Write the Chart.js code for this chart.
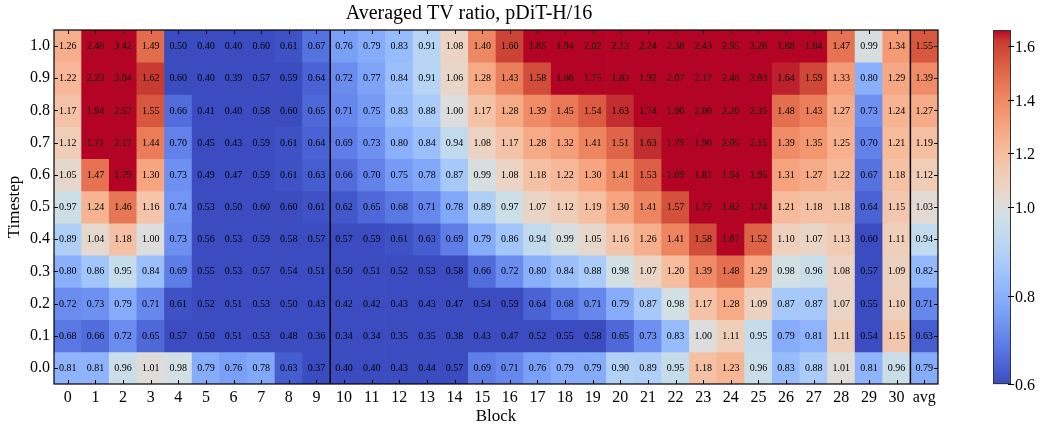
<!DOCTYPE html>
<html>
<head>
<meta charset="utf-8">
<script src="https://cdn.jsdelivr.net/npm/chart.js@4.4.1/dist/chart.umd.min.js"></script>
<style>
  html, body { margin: 0; padding: 0; background: #fff; }
  #wrap { position: relative; width: 1040px; height: 428px; }
</style>
</head>
<body>
<div id="wrap"><canvas id="tv" width="1040" height="428"></canvas></div>
<script>
// Block labels (x) and timesteps (y, top to bottom)
const blocks = ['0','1','2','3','4','5','6','7','8','9','10','11','12','13','14','15',
  '16','17','18','19','20','21','22','23','24','25','26','27','28','29','30','avg'];
const timesteps = [1.0, 0.9, 0.8, 0.7, 0.6, 0.5, 0.4, 0.3, 0.2, 0.1, 0.0];
const cbarTicks = [0.6, 0.8, 1.0, 1.2, 1.4, 1.6];

// Averaged TV ratio per block, one array per timestep
const tv_t10 = [1.26,2.46,3.42,1.49,0.50,0.40,0.40,0.60,0.61,0.67,0.76,0.79,0.83,0.91,1.08,1.40,1.60,1.85,1.94,2.02,2.13,2.24,2.38,2.43,2.95,3.26,1.88,1.84,1.47,0.99,1.34,1.55];
const tv_t09 = [1.22,2.23,3.04,1.62,0.60,0.40,0.39,0.57,0.59,0.64,0.72,0.77,0.84,0.91,1.06,1.28,1.43,1.58,1.66,1.75,1.83,1.92,2.07,2.17,2.46,2.63,1.64,1.59,1.33,0.80,1.29,1.39];
const tv_t08 = [1.17,1.94,2.57,1.55,0.66,0.41,0.40,0.58,0.60,0.65,0.71,0.75,0.83,0.88,1.00,1.17,1.28,1.39,1.45,1.54,1.63,1.74,1.90,2.00,2.20,2.35,1.48,1.43,1.27,0.73,1.24,1.27];
const tv_t07 = [1.12,1.71,2.17,1.44,0.70,0.45,0.43,0.59,0.61,0.64,0.69,0.73,0.80,0.84,0.94,1.08,1.17,1.28,1.32,1.41,1.51,1.63,1.79,1.90,2.05,2.15,1.39,1.35,1.25,0.70,1.21,1.19];
const tv_t06 = [1.05,1.47,1.79,1.30,0.73,0.49,0.47,0.59,0.61,0.63,0.66,0.70,0.75,0.78,0.87,0.99,1.08,1.18,1.22,1.30,1.41,1.53,1.69,1.81,1.94,1.95,1.31,1.27,1.22,0.67,1.18,1.12];
const tv_t05 = [0.97,1.24,1.46,1.16,0.74,0.53,0.50,0.60,0.60,0.61,0.62,0.65,0.68,0.71,0.78,0.89,0.97,1.07,1.12,1.19,1.30,1.41,1.57,1.72,1.82,1.74,1.21,1.18,1.18,0.64,1.15,1.03];
const tv_t04 = [0.89,1.04,1.18,1.00,0.73,0.56,0.53,0.59,0.58,0.57,0.57,0.59,0.61,0.63,0.69,0.79,0.86,0.94,0.99,1.05,1.16,1.26,1.41,1.58,1.67,1.52,1.10,1.07,1.13,0.60,1.11,0.94];
const tv_t03 = [0.80,0.86,0.95,0.84,0.69,0.55,0.53,0.57,0.54,0.51,0.50,0.51,0.52,0.53,0.58,0.66,0.72,0.80,0.84,0.88,0.98,1.07,1.20,1.39,1.48,1.29,0.98,0.96,1.08,0.57,1.09,0.82];
const tv_t02 = [0.72,0.73,0.79,0.71,0.61,0.52,0.51,0.53,0.50,0.43,0.42,0.42,0.43,0.43,0.47,0.54,0.59,0.64,0.68,0.71,0.79,0.87,0.98,1.17,1.28,1.09,0.87,0.87,1.07,0.55,1.10,0.71];
const tv_t01 = [0.68,0.66,0.72,0.65,0.57,0.50,0.51,0.53,0.48,0.36,0.34,0.34,0.35,0.35,0.38,0.43,0.47,0.52,0.55,0.58,0.65,0.73,0.83,1.00,1.11,0.95,0.79,0.81,1.11,0.54,1.15,0.63];
const tv_t00 = [0.81,0.81,0.96,1.01,0.98,0.79,0.76,0.78,0.63,0.37,0.40,0.40,0.43,0.44,0.57,0.69,0.71,0.76,0.79,0.79,0.90,0.89,0.95,1.18,1.23,0.96,0.83,0.88,1.01,0.81,0.96,0.79];
const rows = [tv_t10, tv_t09, tv_t08, tv_t07, tv_t06, tv_t05, tv_t04, tv_t03, tv_t02, tv_t01, tv_t00];

// Two-slope colour normalisation centred on 1.0
const VMIN = 0.6, VCENTER = 1.0, VMAX = 1.66;
function norm(v) {
  const t = v < VCENTER ? 0.5 * (v - VMIN) / (VCENTER - VMIN)
                        : 0.5 + 0.5 * (v - VCENTER) / (VMAX - VCENTER);
  return Math.min(1, Math.max(0, t));
}

// Moreland cool-warm diverging colour map, 33 samples
const CW = [
  [0.2298,0.2987,0.7537],[0.2667,0.3529,0.8016],[0.3045,0.4066,0.8445],[0.3432,0.4595,0.8820],
  [0.3826,0.5105,0.9139],[0.4226,0.5595,0.9401],[0.4630,0.6063,0.9604],[0.5036,0.6504,0.9749],
  [0.5443,0.6915,0.9836],[0.5849,0.7294,0.9866],[0.6251,0.7638,0.9840],[0.6645,0.7945,0.9762],
  [0.7032,0.8214,0.9632],[0.7407,0.8442,0.9455],[0.7768,0.8630,0.9233],[0.8108,0.8773,0.8967],
  [0.8654,0.8654,0.8654],[0.8981,0.8479,0.8089],[0.9255,0.8262,0.7614],[0.9443,0.8000,0.7123],
  [0.9571,0.7698,0.6622],[0.9647,0.7357,0.6122],[0.9672,0.6981,0.5625],[0.9650,0.6573,0.5136],
  [0.9578,0.6137,0.4663],[0.9462,0.5677,0.4206],[0.9304,0.5195,0.3767],[0.9104,0.4692,0.3350],
  [0.8860,0.4165,0.2960],[0.8567,0.3613,0.2599],[0.8225,0.3022,0.2266],[0.7822,0.2363,0.1966],
  [0.7057,0.0156,0.1502]
];
function coolwarm(t) {
  const p = t * (CW.length - 1);
  const i = Math.min(CW.length - 2, Math.floor(p));
  const f = p - i;
  const c = CW[i].map((a, k) => Math.round(255 * (a + (CW[i + 1][k] - a) * f)));
  return `rgb(${c[0]},${c[1]},${c[2]})`;
}

const FONT = "'Liberation Serif', 'DejaVu Serif', serif";
const HALF = 0.05;

// One floating-bar dataset per timestep row, all overlapping on the block axis
const datasets = timesteps.map((t, r) => ({
  label: t.toFixed(1),
  data: blocks.map(() => [t - HALF, t + HALF]),
  backgroundColor: rows[r].map(v => coolwarm(norm(v))),
  borderWidth: 0,
  barPercentage: 1,
  categoryPercentage: 1,
  grouped: false
}));

const heatDecor = {
  id: 'heatDecor',
  afterDatasetsDraw(chart) {
    const { ctx, chartArea: a, scales: { x, y } } = chart;
    ctx.save();

    // value labels inside cells
    ctx.fillStyle = '#000';
    ctx.font = `10px ${FONT}`;
    ctx.textAlign = 'center';
    ctx.textBaseline = 'middle';
    chart.data.datasets.forEach((ds, di) => {
      chart.getDatasetMeta(di).data.forEach((el, i) => {
        const p = el.getProps(['x', 'y', 'base'], true);
        ctx.fillText(rows[di][i].toFixed(2), p.x, (p.y + p.base) / 2 + 0.5);
      });
    });

    // separators before block 10 and before the average column
    ctx.strokeStyle = '#000';
    ctx.lineWidth = 1.5;
    [[9, 10], [30, 31]].forEach(([i, j]) => {
      const xs = (x.getPixelForValue(i) + x.getPixelForValue(j)) / 2;
      ctx.beginPath();
      ctx.moveTo(xs, a.top);
      ctx.lineTo(xs, a.bottom);
      ctx.stroke();
    });

    // inward ticks on all four sides
    ctx.lineWidth = 1;
    ctx.beginPath();
    blocks.forEach((b, i) => {
      const px = Math.round(x.getPixelForValue(i)) + 0.5;
      ctx.moveTo(px, a.bottom); ctx.lineTo(px, a.bottom - 4);
      ctx.moveTo(px, a.top); ctx.lineTo(px, a.top + 4);
    });
    timesteps.forEach(t => {
      const py = Math.round(y.getPixelForValue(t)) + 0.5;
      ctx.moveTo(a.left, py); ctx.lineTo(a.left + 4, py);
      ctx.moveTo(a.right, py); ctx.lineTo(a.right - 4, py);
    });
    ctx.stroke();

    // frame
    ctx.lineWidth = 1.2;
    ctx.strokeRect(a.left, a.top, a.right - a.left, a.bottom - a.top);

    // colour bar
    const cx0 = 993, cx1 = 1011, top = a.top, bot = a.bottom;
    const h = bot - top;
    for (let k = 0; k < h; k++) {
      ctx.fillStyle = coolwarm(1 - (k + 0.5) / h);
      ctx.fillRect(cx0, top + k, cx1 - cx0, 1.2);
    }
    ctx.strokeStyle = '#333';
    ctx.lineWidth = 1;
    ctx.strokeRect(cx0 + 0.5, top + 0.5, cx1 - cx0 - 1, h - 1);
    ctx.strokeStyle = '#000';
    ctx.fillStyle = '#000';
    ctx.font = `16px ${FONT}`;
    ctx.textAlign = 'left';
    ctx.textBaseline = 'middle';
    cbarTicks.forEach(v => {
      const py = Math.round(bot - norm(v) * h) + 0.5;
      ctx.beginPath();
      ctx.moveTo(cx1 - 3, py); ctx.lineTo(cx1 + 3, py);
      ctx.stroke();
      ctx.fillText(v.toFixed(1), cx1 + 4, py + 1);
    });
    ctx.restore();
  }
};

new Chart(document.getElementById('tv'), {
  type: 'bar',
  data: { labels: blocks, datasets },
  options: {
    responsive: false,
    animation: false,
    layout: { padding: { left: 0, right: 102, top: 0, bottom: 0 } },
    plugins: {
      legend: { display: false },
      tooltip: { enabled: false },
      title: {
        display: true,
        text: 'Averaged TV ratio, pDiT-H/16',
        color: '#000',
        font: { family: FONT, size: 20, weight: 'normal', lineHeight: 1.2 },
        padding: { top: 1.5, bottom: 4.5 }
      }
    },
    scales: {
      x: {
        type: 'category',
        grid: { display: false, drawTicks: false, tickLength: 0 },
        border: { display: false },
        ticks: { color: '#000', font: { family: FONT, size: 16 }, padding: 4, maxRotation: 0, autoSkip: false },
        title: { display: true, text: 'Block', color: '#000', font: { family: FONT, size: 17, lineHeight: 1.2 }, padding: { top: 0, bottom: 1.5 } },
        afterFit(s) { s.height = 44; }
      },
      y: {
        type: 'linear',
        min: -HALF,
        max: 1 + HALF,
        afterBuildTicks(s) { s.ticks = timesteps.map(v => ({ value: v })); },
        grid: { display: false, drawTicks: false, tickLength: 0 },
        border: { display: false },
        ticks: { color: '#000', font: { family: FONT, size: 16 }, padding: 4, callback: v => Number(v).toFixed(1) },
        title: { display: true, text: 'Timestep', color: '#000', font: { family: FONT, size: 17, lineHeight: 1.2 }, padding: { top: 4, bottom: 0 } },
        afterFit(s) { s.width = 54; }
      }
    }
  },
  plugins: [heatDecor]
});
</script>
</body>
</html>
